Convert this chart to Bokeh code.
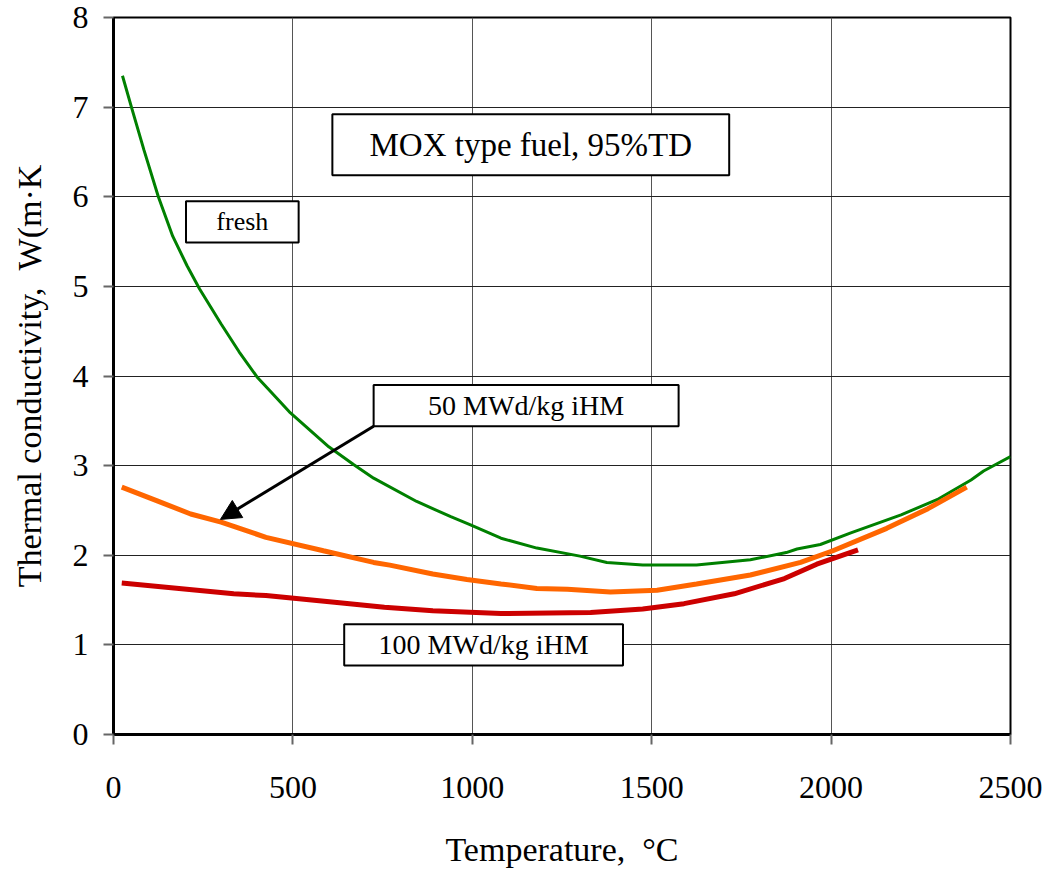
from bokeh.plotting import figure
from bokeh.models import Range1d, FixedTicker, Arrow, NormalHead
from bokeh.core.properties import value
from bokeh.embed import file_html
from bokeh.resources import INLINE

# ---- data ----
fresh_T = [25, 50, 85, 125, 165, 205, 240, 300, 350, 400, 430, 490, 600, 670, 725, 845,
           940, 995, 1080, 1180, 1300, 1375, 1475, 1625, 1775, 1875, 1905, 1970, 2055,
           2195, 2300, 2390, 2425, 2500]
fresh_k = [7.35, 7.0, 6.52, 6.0, 5.56, 5.23, 4.97, 4.58, 4.27, 3.99, 3.86, 3.60, 3.21, 3.01,
           2.86, 2.60, 2.43, 2.34, 2.19, 2.08, 1.99, 1.92, 1.89, 1.89, 1.95, 2.03, 2.07, 2.12,
           2.25, 2.45, 2.63, 2.84, 2.94, 3.10]

bu50_T = [23, 120, 215, 300, 425, 585, 725, 770, 890, 985, 1080, 1180, 1265, 1385, 1515, 1625,
          1775, 1915, 2005, 2155, 2270, 2378]
bu50_k = [2.76, 2.61, 2.46, 2.37, 2.20, 2.05, 1.92, 1.89, 1.79, 1.73, 1.68, 1.63, 1.62, 1.59,
          1.61, 1.68, 1.78, 1.92, 2.05, 2.30, 2.52, 2.76]

bu100_T = [23, 335, 425, 630, 755, 890, 1080, 1330, 1475, 1590, 1730, 1870, 1960, 2075]
bu100_k = [1.69, 1.57, 1.55, 1.47, 1.42, 1.38, 1.35, 1.36, 1.40, 1.46, 1.57, 1.74, 1.90, 2.06]

x_ticks = [0, 500, 1000, 1500, 2000, 2500]
y_ticks = [0, 1, 2, 3, 4, 5, 6, 7, 8]

FONT = "Liberation Serif"
NB = "\u00a0"

p = figure(width=1044, height=870, output_backend="svg", toolbar_location=None,
           x_range=Range1d(0, 2500), y_range=Range1d(0, 8),
           min_border_left=113, min_border_right=34, min_border_top=17, min_border_bottom=132)

p.background_fill_color = "white"
p.border_fill_color = "white"
p.outline_line_color = "black"
p.outline_line_width = 2

p.xaxis.ticker = FixedTicker(ticks=x_ticks)
p.yaxis.ticker = FixedTicker(ticks=y_ticks)
for ax in (p.xaxis, p.yaxis):
    ax.axis_line_color = "black"
    ax.axis_line_width = 3
    ax.major_tick_line_color = "#666666"
    ax.major_tick_line_width = 2
    ax.major_tick_out = 10
    ax.major_tick_in = 0
    ax.minor_tick_line_color = None
    ax.major_label_text_font = FONT
    ax.major_label_text_font_size = "32px"
    ax.major_label_text_color = "black"
    ax.axis_label_text_font = FONT
    ax.axis_label_text_font_size = "34px"
    ax.axis_label_text_font_style = "normal"
    ax.axis_label_text_color = "black"

p.xaxis.axis_label = "Temperature," + NB + NB + "\u00b0C"
p.yaxis.axis_label = "Thermal conductivity," + NB + NB + "W(m\u00b7K"
p.xaxis.major_label_standoff = 32
p.xaxis.axis_label_standoff = 30
p.yaxis.major_label_standoff = 15
p.yaxis.axis_label_standoff = 22

p.xgrid.grid_line_color = "#555555"
p.xgrid.grid_line_width = 1
p.ygrid.grid_line_color = "#222222"
p.ygrid.grid_line_width = 1

# ---- curves ----
p.line(fresh_T, fresh_k, line_color="#008000", line_width=3)
p.line(bu50_T, bu50_k, line_color="#FF6600", line_width=5)
p.line(bu100_T, bu100_k, line_color="#CC0000", line_width=5)

# ---- annotation boxes ----
boxes = [
    (610, 1716, 6.24, 6.92, "MOX type fuel, 95%TD", "33px"),
    (202, 516, 5.49, 5.95, "fresh", "26px"),
    (725, 1575, 3.44, 3.90, "50 MWd/kg iHM", "28px"),
    (643, 1420, 0.77, 1.23, "100 MWd/kg iHM", "28px"),
]
for (l, r, b, t, txt, fs) in boxes:
    p.quad(left=[l], right=[r], bottom=[b], top=[t], fill_color="white",
           line_color="black", line_width=2)
    p.text(x=[(l + r) / 2], y=[(b + t) / 2], text=[txt], text_font=value(FONT),
           text_font_size=fs, text_align="center", text_baseline="middle",
           text_color="black")

p.add_layout(Arrow(end=NormalHead(size=20, fill_color="black", line_color="black"),
                   x_start=725, y_start=3.44, x_end=298, y_end=2.40,
                   line_color="black", line_width=3))

open("out.html", "w").write(file_html(p, INLINE))
